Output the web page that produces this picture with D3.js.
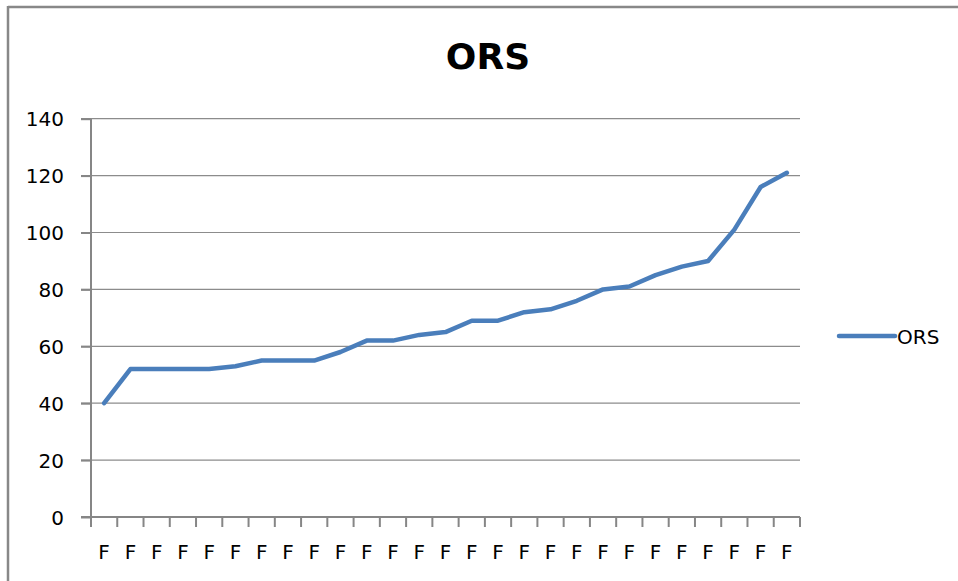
<!DOCTYPE html>
<html>
  <head>
    <meta charset="utf-8" />
    <title>ORS</title>
    <style>
      body { margin: 0; background: #fff; }
      svg { display: block; font-family: 'DejaVu Sans', sans-serif; }
      .grid line { stroke: #8c8c8c; stroke-width: 1.2px; }
      .axis path, .axis line { stroke: #868686; stroke-width: 2px; }
      .axis text { fill: #000; }
      .line { fill: none; stroke: #4a7ebb; stroke-width: 4.5px; stroke-linejoin: round; stroke-linecap: round; }
    </style>
    <script src="https://d3js.org/d3.v7.min.js"></script>
  </head>
  <body>
    <div id="chart"></div>
    <script>
      // category labels (truncated in the original, only "F" is shown)
      const categories = d3.range(27).map(i => "F" + i);
      const tickLabels = categories.map(() => "F");
      const orsValues = [40, 52, 52, 52, 52, 53, 55, 55, 55, 58, 62, 62, 64, 65, 69,
                         69, 72, 73, 76, 80, 81, 85, 88, 90, 101, 116, 121];
      const yTicks = [0, 20, 40, 60, 80, 100, 120, 140];

      const width = 958, height = 581;
      const plot = { left: 91, right: 800, top: 118.7, bottom: 517 };

      const svg = d3.select("#chart").append("svg")
        .attr("width", width)
        .attr("height", height);

      // frame of the embedded chart
      svg.append("line").attr("x1", 8).attr("x2", width).attr("y1", 7).attr("y2", 7)
        .attr("stroke", "#888").attr("stroke-width", 2.5);
      svg.append("line").attr("x1", 8).attr("x2", 8).attr("y1", 6).attr("y2", height)
        .attr("stroke", "#888").attr("stroke-width", 2.5);

      const x = d3.scaleBand().domain(categories).range([plot.left, plot.right]);
      const y = d3.scaleLinear().domain([0, 140]).range([plot.bottom, plot.top]);

      // horizontal gridlines
      svg.append("g").attr("class", "grid")
        .selectAll("line")
        .data(yTicks.filter(d => d > 0))
        .join("line")
        .attr("x1", plot.left - 10)
        .attr("x2", plot.right)
        .attr("y1", d => y(d))
        .attr("y2", d => y(d));

      // y axis
      const yAxis = svg.append("g").attr("class", "axis")
        .attr("transform", `translate(${plot.left},0)`)
        .call(d3.axisLeft(y).tickValues(yTicks).tickSize(10).tickPadding(17).tickSizeOuter(0));
      yAxis.attr("font-family", "DejaVu Sans").attr("font-size", 20);
      yAxis.select(".domain").attr("d", `M0,${plot.top}V${plot.bottom}`);
      yAxis.selectAll("text").attr("dy", "0.36em");

      // x axis: ticks between categories
      const xAxis = svg.append("g").attr("class", "axis")
        .attr("transform", `translate(0,${plot.bottom})`)
        .attr("font-family", "DejaVu Sans").attr("font-size", 20);
      xAxis.append("path").attr("class", "domain")
        .attr("d", `M${plot.left - 10},0H${plot.right}`);
      xAxis.selectAll(".tk")
        .data(categories.concat(["end"]))
        .join("line")
        .attr("class", "tk")
        .attr("x1", (d, i) => i < categories.length ? x(d) : plot.right)
        .attr("x2", (d, i) => i < categories.length ? x(d) : plot.right)
        .attr("y1", 0)
        .attr("y2", 10);
      xAxis.selectAll(".lbl")
        .data(categories)
        .join("text")
        .attr("class", "lbl")
        .attr("x", d => x(d) + x.bandwidth() / 2)
        .attr("y", 42)
        .attr("text-anchor", "middle")
        .text((d, i) => tickLabels[i]);

      // series line
      const line = d3.line()
        .x((d, i) => x(categories[i]) + x.bandwidth() / 2)
        .y(d => y(d));
      svg.append("path").datum(orsValues).attr("class", "line").attr("d", line);

      // title
      svg.append("text")
        .attr("x", 488).attr("y", 69)
        .attr("text-anchor", "middle")
        .attr("font-size", 36).attr("font-weight", "bold")
        .text("ORS");

      // legend
      const legend = svg.append("g").attr("transform", "translate(839,336)");
      legend.append("line").attr("class", "line").attr("x1", 0).attr("x2", 56).attr("y1", 0).attr("y2", 0);
      legend.append("text").attr("x", 58).attr("y", 7.5).attr("font-size", 20).text("ORS");
    </script>
  </body>
</html>
